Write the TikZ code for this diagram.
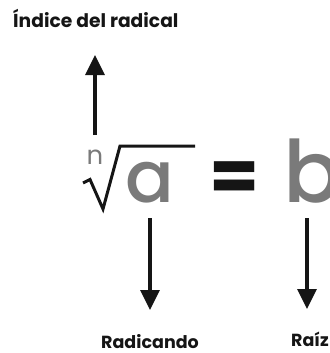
\documentclass[tikz,border=0pt]{standalone}
\usepackage{fontspec}
\setmainfont{Poppins}
\newfontfamily\lblfont{Poppins}[UprightFont=* Bold]
\newfontfamily\symfont{Poppins}[UprightFont=* Medium]
\usetikzlibrary{arrows.meta}
\definecolor{symgrey}{HTML}{7A7A7A}
\definecolor{ink}{HTML}{151515}
\tikzset{
  lbl/.style={inner sep=0pt, text=ink, font=\lblfont\fontsize{17.5}{20}\selectfont},
  sym/.style={inner sep=0pt, text=symgrey},
  arr/.style={line width=3.2pt, draw=ink, -{Triangle[length=20pt,width=19pt]}},
}
\begin{document}
\begin{tikzpicture}[x=1pt,y=-1pt]
\useasboundingbox (0,0) rectangle (329,353);
\clip (0,0) rectangle (329,353);
% labels
\node[lbl, anchor=base west, font=\lblfont\fontsize{18.7}{21}\selectfont] (idx) at (13,28) {Índice del radical};
\node[lbl, anchor=base west] (rad) at (101,348) {Radicando};
\node[lbl, anchor=base west] (raiz) at (291,346) {Raíz};
% radical symbol
\node[sym, anchor=base, font=\fontsize{26}{28}\selectfont] (n) at (95,164) {n};
\draw[ink, line width=3pt, line join=miter, line cap=butt]
  (83,183) -- (90,179.5) -- (103,209) -- (120,146) -- (195,146);
\node[sym, anchor=base, font=\symfont\fontsize{72}{80}\selectfont] (a) at (150,202) {a};
\node[ink, inner sep=0pt, anchor=center, font=\lblfont\fontsize{72}{78}\selectfont] (eq) at (235,182) {=};
\node[sym, anchor=base west, font=\symfont\fontsize{86}{90}\selectfont] (b) at (283,202) {b};
% arrow anchor points
\coordinate (idxfoot) at (95,135);
\coordinate (idxtip) at (95,55);
\coordinate (afoot) at (150,218);
\coordinate (atip) at (150,310);
\coordinate (bfoot) at (307,218);
\coordinate (btip) at (307,309);
\draw[arr] (idxfoot) -- (idxtip);
\draw[arr] (afoot) -- (atip);
\draw[arr] (bfoot) -- (btip);
\end{tikzpicture}
\end{document}
